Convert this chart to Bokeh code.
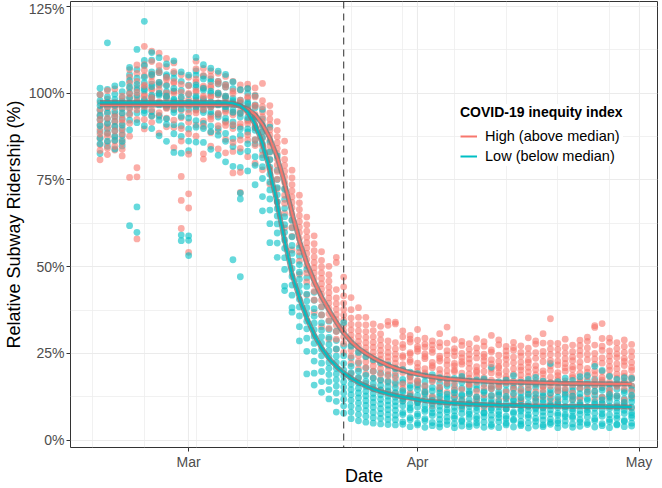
import pandas as pd
from bokeh.plotting import figure
from bokeh.models import (ColumnDataSource, Range1d, FixedTicker, Span, Legend,
                          LegendItem, PrintfTickFormatter)
from bokeh.embed import file_html
from bokeh.resources import INLINE

# ---------------- data ----------------
first_date = "2020-02-18"          # first day of observations
month_ref = "2020-03-01"           # x origin (day 0)
pause_date = "2020-03-22"          # NY PAUSE (dashed line)
month_ticks = ["2020-03-01", "2020-04-01", "2020-05-01"]
month_labels = ["Mar", "Apr", "May"]
week_minor = ["2020-02-17", "2020-02-24", "2020-03-02", "2020-03-09", "2020-03-16",
              "2020-03-23", "2020-03-30", "2020-04-06", "2020-04-13", "2020-04-20",
              "2020-04-27", "2020-05-04"]
y_ticks = [0, 25, 50, 75, 100, 125]
y_minor = [12.5, 37.5, 62.5, 87.5, 112.5]
groups = ["High (above median)", "Low (below median)"]
colors = ["#F8766D", "#00BFC4"]

# relative ridership (%) per day (one list per day, starting at first_date)
high_pts = [
    [80.8, 83.5, 85.1, 86.9, 88.2, 89.6, 90.9, 92.4, 93.7, 95.3, 97.2, 99.6],
    [82.3, 84.1, 85.8, 87.5, 88.4, 90.2, 91.1, 92.8, 94.6, 96.1, 98.3, 100.7],
    [83.6, 84.7, 86.2, 87.4, 89.1, 90.5, 91.8, 93.2, 94.1, 95.9, 97.4, 101.2],
    [81.9, 83.8, 85.6, 86.7, 88.3, 89.9, 91.4, 92.3, 93.8, 95.6, 97.7, 99.1],
    [75.7, 87.6, 91.3, 93.8, 95.4, 97.1, 98.6, 99.8, 101.3, 102.9, 104.6, 106.8],
    [58.0, 75.9, 78.5, 92.4, 95.2, 97.3, 98.8, 100.2, 101.6, 103.4, 105.7, 108.1],
    [89.7, 92.4, 95.9, 96.5, 99.1, 99.6, 101.9, 102.3, 105.0, 106.6, 108.2, 113.5],
    [91.6, 93.5, 95.2, 98.2, 98.7, 100.9, 101.3, 103.4, 104.8, 105.5, 109.1, 112.1],
    [88.5, 93.3, 94.4, 97.1, 97.5, 99.8, 101.0, 102.6, 103.1, 106.0, 107.9, 111.5],
    [90.3, 92.8, 95.6, 96.0, 98.6, 99.3, 100.1, 102.4, 103.9, 104.5, 107.6, 110.0],
    [84.3, 90.1, 92.2, 95.5, 96.2, 97.4, 99.9, 100.5, 102.9, 103.3, 106.2, 108.7],
    [61.0, 69.1, 76.0, 86.2, 89.8, 92.9, 95.1, 96.8, 98.4, 100.2, 102.5, 105.3],
    [54.1, 66.9, 71.0, 82.4, 88.3, 91.6, 94.2, 96.3, 98.1, 99.9, 102.1, 104.6],
    [87.6, 90.8, 94.3, 95.1, 97.6, 98.0, 100.3, 100.8, 103.2, 104.0, 107.0, 109.2],
    [81.0, 82.5, 90.4, 92.0, 95.3, 96.1, 98.6, 99.1, 101.5, 102.0, 105.1, 107.1],
    [84.7, 88.6, 92.5, 93.3, 95.9, 96.4, 98.9, 99.2, 101.6, 102.2, 104.9, 106.4],
    [83.9, 89.0, 90.6, 93.7, 94.2, 96.8, 97.2, 99.5, 100.1, 102.8, 103.4, 105.7],
    [82.8, 86.7, 90.7, 91.6, 94.5, 95.0, 97.3, 98.7, 99.1, 101.8, 102.4, 104.8],
    [77.0, 83.2, 85.8, 89.8, 90.9, 93.8, 94.4, 96.9, 97.3, 99.9, 100.6, 103.4],
    [71.4, 77.2, 84.1, 86.5, 90.3, 91.2, 94.1, 94.8, 97.4, 98.0, 100.9, 102.4],
    [81.7, 86.5, 88.0, 91.2, 92.0, 94.5, 95.7, 96.1, 98.5, 99.0, 101.4, 102.6],
    [79.8, 84.9, 86.6, 90.1, 90.8, 93.3, 93.9, 96.2, 96.5, 98.9, 99.4, 101.5],
    [77.9, 82.2, 84.9, 87.0, 88.8, 90.3, 91.8, 93.2, 94.6, 96.1, 97.8, 102.8],
    [73.8, 78.1, 80.9, 83.0, 84.8, 86.4, 87.9, 89.4, 90.9, 92.5, 94.3, 96.4],
    [68.7, 72.5, 75.2, 77.4, 79.3, 81.0, 82.6, 84.1, 85.7, 87.4, 89.3, 91.8],
    [61.2, 65.4, 68.3, 70.6, 72.5, 74.3, 75.9, 77.5, 79.2, 80.9, 83.1, 86.2],
    [54.8, 58.7, 61.3, 63.4, 65.2, 66.9, 68.5, 70.1, 71.8, 73.6, 75.6, 77.8],
    [47.8, 51.6, 54.2, 56.3, 58.1, 59.8, 61.4, 63.0, 64.7, 66.5, 68.4, 70.6],
    [41.9, 45.6, 48.2, 50.3, 52.1, 53.8, 55.4, 56.9, 58.5, 60.2, 62.1, 64.3],
    [36.8, 40.4, 42.9, 44.9, 46.6, 48.2, 49.7, 51.2, 52.8, 54.6, 56.6, 58.9],
    [32.7, 36.1, 38.5, 40.4, 42.1, 43.6, 45.1, 46.6, 48.2, 49.9, 51.8, 54.3],
    [29.1, 32.2, 34.5, 36.4, 38.0, 39.5, 41.0, 42.5, 44.1, 45.8, 47.7, 50.1],
    [26.2, 29.1, 31.3, 33.1, 34.7, 36.2, 37.7, 39.3, 41.0, 43.4, 51.2, 52.7],
    [25.3, 27.9, 29.8, 31.5, 33.1, 34.6, 36.1, 37.7, 39.5, 41.6, 44.2, 47.0],
    [19.2, 22.1, 24.2, 25.9, 27.4, 28.9, 30.3, 31.8, 33.4, 35.2, 37.6, 41.1],
    [17.9, 20.6, 22.6, 24.3, 25.8, 27.2, 28.5, 29.9, 31.5, 33.3, 35.4, 38.2],
    [16.4, 19.1, 21.0, 22.6, 24.0, 25.4, 26.7, 28.1, 29.6, 31.3, 33.2, 35.4],
    [15.3, 17.9, 19.8, 21.4, 22.8, 24.1, 25.4, 26.8, 28.2, 29.8, 31.6, 33.5],
    [14.6, 17.2, 19.0, 20.6, 22.0, 23.3, 24.6, 25.9, 27.3, 28.9, 30.6, 32.8],
    [14.2, 16.7, 18.5, 20.0, 21.4, 22.7, 24.0, 25.3, 26.8, 28.6, 33.1, 34.2],
    [13.6, 16.1, 17.9, 19.5, 20.9, 22.2, 23.5, 24.8, 26.3, 28.1, 33.5, 34.0],
    [11.4, 14.9, 16.2, 19.5, 20.3, 21.8, 23.9, 24.4, 26.7, 27.6, 29.8, 31.5],
    [12.7, 13.6, 17.1, 18.4, 19.0, 22.5, 23.1, 24.8, 25.2, 28.3, 29.1, 30.2],
    [10.8, 15.5, 16.6, 17.2, 19.9, 21.0, 22.2, 25.6, 26.3, 27.0, 28.8, 31.9],
    [13.1, 14.2, 15.7, 18.9, 19.4, 20.6, 23.5, 24.1, 24.9, 26.8, 29.4, 27.7],
    [9.9, 12.6, 16.9, 17.8, 18.2, 20.9, 21.5, 22.4, 25.3, 26.1, 27.4, 28.6],
    [11.9, 14.4, 15.3, 17.5, 19.2, 20.4, 22.8, 23.6, 24.2, 26.9, 28.1, 30.7],
    [10.2, 13.8, 16.4, 17.1, 18.6, 20.0, 21.7, 23.0, 24.6, 25.8, 28.0, 32.6],
    [12.3, 13.2, 15.0, 16.8, 19.7, 20.2, 21.4, 22.1, 24.3, 25.5, 26.4, 29.0],
    [9.6, 11.8, 14.6, 17.6, 18.1, 19.3, 21.9, 22.6, 23.8, 25.0, 27.3, 28.5],
    [10.7, 13.4, 15.9, 16.3, 17.9, 19.1, 20.7, 22.2, 23.4, 24.7, 26.2, 27.8],
    [11.2, 12.4, 14.1, 16.7, 18.5, 19.6, 20.1, 21.2, 23.7, 25.1, 26.6, 29.3],
    [9.3, 13.0, 15.2, 17.4, 18.0, 19.8, 21.6, 22.9, 24.0, 24.8, 27.1, 28.4],
    [10.5, 12.8, 14.8, 15.6, 17.3, 19.4, 20.5, 22.0, 23.2, 25.4, 26.0, 30.2],
    [11.6, 13.3, 15.4, 16.1, 18.7, 19.5, 20.8, 21.3, 22.7, 24.5, 27.5, 28.9],
    [9.1, 12.1, 13.9, 16.5, 17.7, 18.3, 19.9, 21.8, 23.3, 24.4, 25.7, 27.0],
    [10.4, 12.9, 14.7, 15.8, 17.0, 19.0, 20.6, 22.3, 23.9, 25.9, 26.7, 28.2],
    [11.0, 11.9, 14.3, 16.2, 17.4, 18.8, 20.2, 21.1, 22.5, 24.2, 25.3, 27.2],
    [9.8, 13.5, 15.1, 16.9, 18.4, 19.7, 21.0, 22.4, 23.1, 24.9, 26.5, 29.5],
    [10.9, 12.2, 14.0, 16.0, 17.2, 18.9, 20.3, 21.5, 23.6, 25.2, 27.7, 28.6],
    [9.4, 12.5, 14.5, 15.5, 17.8, 19.2, 20.0, 22.6, 24.3, 25.6, 28.0, 30.7],
    [11.3, 13.1, 15.6, 16.6, 18.2, 20.1, 21.4, 23.0, 24.7, 26.3, 28.0, 35.0],
    [10.1, 11.7, 14.2, 15.3, 17.5, 18.6, 19.5, 21.7, 22.8, 24.6, 26.2, 27.9],
    [9.7, 13.7, 14.9, 16.4, 17.1, 19.9, 20.9, 22.1, 23.5, 25.1, 26.8, 29.1],
    [11.5, 12.7, 13.6, 15.9, 18.0, 18.7, 20.4, 21.2, 22.9, 24.0, 25.5, 27.4],
    [10.3, 12.0, 15.0, 16.8, 17.6, 19.3, 21.1, 22.5, 24.4, 25.8, 27.3, 28.8],
    [9.5, 13.4, 14.6, 16.1, 18.3, 19.6, 20.7, 23.2, 24.8, 26.6, 28.5, 29.7],
    [11.8, 13.9, 15.7, 17.0, 18.9, 20.0, 21.9, 23.4, 25.0, 27.4, 32.5, 33.0],
    [10.6, 12.3, 15.3, 17.3, 18.1, 19.8, 22.2, 23.7, 25.9, 27.1, 29.3, 33.6],
    [12.2, 13.6, 14.4, 16.7, 18.6, 20.2, 21.3, 22.8, 24.2, 25.7, 28.2, 29.4],
    [9.9, 12.8, 15.5, 16.3, 17.9, 19.0, 20.6, 22.0, 23.8, 24.9, 26.4, 28.1],
    [10.8, 11.6, 14.8, 17.1, 18.4, 19.4, 21.5, 22.7, 23.6, 25.3, 27.0, 28.9],
    [9.2, 12.6, 14.0, 15.6, 17.6, 18.2, 20.1, 21.0, 22.4, 24.1, 25.6, 27.6],
]
low_pts = [
    [82.6, 85.4, 87.1, 88.9, 90.6, 92.3, 93.5, 95.1, 96.4, 97.8, 99.5, 101.4],
    [84.7, 86.2, 88.5, 89.7, 91.3, 92.6, 94.2, 95.8, 97.3, 98.9, 101.1, 114.5],
    [83.9, 86.4, 87.6, 89.2, 90.4, 91.9, 93.3, 94.8, 96.5, 98.2, 99.7, 102.1],
    [84.8, 86.1, 87.9, 89.4, 90.8, 92.7, 94.3, 95.6, 97.1, 98.6, 100.4, 102.6],
    [61.8, 89.4, 92.2, 94.1, 95.8, 97.2, 98.7, 100.1, 101.8, 103.6, 105.3, 107.4],
    [59.9, 67.2, 91.5, 94.3, 96.2, 97.9, 99.4, 100.9, 102.5, 104.3, 106.8, 112.6],
    [90.6, 94.3, 95.0, 97.8, 98.2, 100.7, 101.2, 103.0, 104.6, 107.9, 109.4, 120.7],
    [89.8, 93.4, 94.7, 97.5, 98.9, 99.4, 101.9, 102.6, 105.3, 106.1, 109.5, 111.7],
    [87.7, 92.2, 93.6, 96.6, 97.1, 99.4, 100.0, 102.3, 103.1, 105.9, 106.5, 110.2],
    [86.1, 91.0, 92.6, 95.8, 96.3, 98.7, 99.1, 100.4, 102.1, 104.8, 105.3, 108.4],
    [82.9, 88.3, 90.9, 94.4, 95.2, 97.9, 98.3, 100.6, 101.4, 104.3, 105.7, 109.3],
    [57.5, 59.1, 82.7, 87.5, 90.6, 93.3, 95.4, 97.2, 98.9, 100.8, 103.4, 106.1],
    [53.2, 57.6, 58.9, 83.4, 86.2, 89.7, 92.8, 95.3, 97.4, 99.6, 102.3, 105.2],
    [85.9, 90.2, 92.1, 95.3, 96.0, 98.6, 99.1, 101.7, 102.4, 105.2, 106.4, 110.3],
    [85.8, 89.8, 91.3, 94.4, 95.1, 97.7, 98.2, 100.8, 101.4, 104.1, 104.9, 108.2],
    [83.8, 88.9, 90.5, 93.9, 94.6, 96.1, 97.5, 100.0, 100.6, 103.3, 104.1, 107.2],
    [82.1, 87.9, 89.8, 93.1, 94.0, 96.6, 97.1, 99.5, 100.0, 102.6, 103.4, 106.3],
    [80.2, 86.1, 88.4, 91.9, 92.8, 95.5, 96.1, 98.6, 99.1, 101.7, 102.5, 105.4],
    [52.0, 78.9, 84.6, 86.9, 90.6, 91.7, 94.5, 95.2, 97.8, 98.5, 101.3, 103.2],
    [47.1, 69.5, 71.2, 78.6, 83.1, 87.8, 89.7, 93.1, 94.2, 97.1, 98.0, 101.0],
    [77.6, 83.3, 85.4, 88.8, 89.7, 92.4, 93.0, 95.4, 96.9, 97.4, 100.0, 101.3],
    [73.6, 79.2, 81.7, 85.4, 86.5, 89.3, 90.0, 92.6, 93.2, 95.8, 96.6, 99.2],
    [66.1, 70.2, 75.4, 78.8, 81.4, 83.5, 85.4, 87.2, 88.9, 90.7, 92.6, 95.3],
    [56.9, 62.4, 66.3, 69.5, 72.1, 74.4, 76.6, 78.7, 80.8, 83.1, 85.9, 90.2],
    [52.7, 56.8, 59.7, 62.3, 64.6, 66.7, 68.7, 70.7, 72.8, 75.1, 77.8, 81.9],
    [43.1, 44.4, 49.2, 52.6, 55.3, 57.7, 59.9, 62.1, 64.4, 66.8, 69.4, 72.3],
    [36.9, 38.2, 41.8, 44.7, 47.2, 49.5, 51.6, 53.8, 56.1, 58.6, 61.2, 63.4],
    [28.6, 32.7, 35.8, 38.4, 40.6, 42.6, 44.5, 46.4, 48.4, 50.6, 53.1, 55.4],
    [19.1, 25.6, 29.4, 32.1, 34.3, 36.3, 38.2, 40.1, 42.1, 44.3, 46.8, 49.2],
    [15.9, 19.3, 22.8, 25.6, 27.9, 29.9, 31.8, 33.7, 35.7, 37.9, 40.3, 42.6],
    [13.8, 16.9, 19.8, 22.2, 24.3, 26.2, 28.0, 29.8, 31.7, 33.8, 36.1, 38.4],
    [11.9, 14.6, 16.9, 18.9, 20.7, 22.4, 24.1, 25.8, 27.6, 29.6, 31.9, 34.3],
    [8.1, 11.2, 13.6, 15.6, 17.4, 19.1, 20.7, 22.4, 24.2, 26.3, 28.7, 31.4],
    [7.8, 9.9, 11.8, 13.6, 15.3, 16.9, 18.5, 20.2, 22.1, 24.3, 27.2, 33.9],
    [6.2, 8.1, 9.8, 11.5, 13.1, 14.6, 16.1, 17.7, 19.4, 21.3, 23.7, 27.1],
    [5.6, 7.4, 9.1, 10.7, 12.2, 13.6, 15.0, 16.5, 18.1, 19.9, 22.2, 25.3],
    [5.2, 6.9, 8.5, 10.0, 11.4, 12.8, 14.1, 15.5, 17.0, 18.7, 20.8, 24.1],
    [4.9, 6.5, 8.0, 9.5, 10.9, 12.2, 13.5, 14.8, 16.3, 17.9, 19.9, 23.2],
    [4.7, 6.3, 7.7, 9.1, 10.5, 11.8, 13.1, 14.4, 15.8, 17.4, 19.4, 22.3],
    [4.5, 6.0, 7.4, 8.8, 10.1, 11.4, 12.7, 14.0, 15.4, 17.0, 18.9, 21.7],
    [4.4, 5.9, 7.2, 8.6, 9.9, 11.1, 12.4, 13.7, 15.1, 16.7, 18.6, 20.6],
    [4.6, 5.3, 7.4, 8.0, 9.9, 11.2, 12.0, 13.8, 14.3, 16.6, 17.5, 20.3],
    [3.9, 5.9, 6.5, 8.7, 9.3, 10.4, 12.6, 13.2, 15.1, 15.8, 18.2, 19.6],
    [4.4, 4.9, 6.9, 7.6, 9.6, 10.8, 11.3, 12.9, 14.6, 16.0, 17.0, 19.2],
    [3.7, 5.6, 6.2, 8.3, 8.9, 10.1, 11.8, 13.5, 13.9, 15.5, 16.9, 18.5],
    [4.2, 5.1, 7.1, 7.9, 9.1, 10.6, 11.5, 12.3, 14.2, 15.2, 17.3, 18.9],
    [3.8, 4.7, 6.0, 7.3, 8.6, 9.8, 11.0, 12.7, 13.6, 14.9, 16.4, 18.0],
    [4.5, 5.5, 6.6, 8.1, 8.8, 10.3, 11.9, 12.4, 13.3, 15.6, 16.2, 17.6],
    [3.6, 4.8, 6.3, 7.0, 8.4, 9.5, 10.9, 12.2, 13.7, 14.4, 15.9, 17.8],
    [4.1, 5.4, 5.8, 7.7, 9.0, 10.0, 11.4, 12.8, 13.1, 15.0, 16.7, 18.4],
    [3.9, 4.6, 6.4, 7.5, 8.2, 9.7, 10.5, 11.6, 13.4, 14.1, 15.4, 17.1],
    [4.3, 5.0, 6.1, 6.8, 8.5, 9.4, 10.2, 11.9, 12.5, 14.7, 15.7, 17.4],
    [3.7, 5.2, 6.7, 7.8, 8.0, 9.9, 11.1, 12.1, 13.8, 14.2, 16.1, 17.7],
    [4.0, 4.5, 5.9, 7.2, 8.7, 9.2, 10.8, 11.7, 12.9, 14.8, 15.5, 21.0],
    [3.6, 5.3, 6.5, 7.4, 8.3, 9.6, 10.4, 11.2, 13.0, 13.9, 15.3, 16.8],
    [4.4, 4.9, 6.2, 6.9, 8.9, 9.1, 10.7, 12.0, 12.6, 14.3, 15.9, 17.3],
    [3.8, 5.7, 6.0, 7.7, 8.1, 10.1, 11.3, 11.8, 13.5, 15.0, 16.5, 18.6],
    [4.2, 4.6, 5.5, 7.1, 8.4, 8.9, 10.0, 11.5, 12.3, 13.6, 14.8, 16.7],
    [3.5, 5.0, 6.6, 7.3, 8.6, 9.8, 10.6, 12.4, 13.2, 14.5, 16.0, 17.5],
    [4.1, 5.4, 6.3, 7.9, 9.0, 9.5, 11.4, 12.2, 13.3, 15.2, 16.3, 18.1],
    [3.9, 4.4, 5.8, 7.0, 8.2, 9.3, 10.9, 11.6, 12.8, 13.7, 15.6, 17.0],
    [4.6, 5.1, 6.1, 7.6, 8.8, 9.9, 10.3, 12.1, 13.6, 14.6, 16.6, 22.1],
    [3.6, 4.9, 5.6, 7.2, 7.8, 9.4, 10.5, 11.1, 12.4, 14.0, 15.0, 16.9],
    [4.3, 5.5, 6.8, 7.4, 8.9, 9.6, 11.2, 12.5, 13.1, 14.4, 16.4, 17.9],
    [3.7, 4.7, 6.4, 6.9, 8.3, 9.0, 10.1, 11.8, 12.7, 14.2, 15.2, 17.2],
    [4.0, 5.2, 5.9, 7.5, 8.5, 10.2, 10.8, 12.3, 13.4, 14.9, 16.2, 18.3],
    [4.5, 5.0, 6.7, 8.0, 8.7, 9.7, 11.5, 12.0, 13.9, 15.3, 17.1, 18.7],
    [3.8, 5.6, 6.2, 7.8, 9.2, 10.4, 11.0, 12.9, 14.1, 15.7, 17.6, 21.3],
    [4.2, 4.8, 6.9, 7.6, 8.8, 10.6, 11.6, 12.4, 14.4, 15.1, 16.8, 20.1],
    [3.6, 5.3, 6.0, 7.3, 9.1, 9.8, 11.3, 12.6, 13.2, 15.0, 16.1, 18.4],
    [4.4, 4.6, 6.3, 7.1, 8.4, 9.3, 10.7, 12.2, 12.8, 14.7, 15.8, 17.5],
    [3.9, 5.4, 5.7, 7.7, 8.6, 10.0, 10.9, 11.9, 13.7, 14.3, 16.5, 18.0],
    [4.1, 4.9, 6.5, 7.2, 8.0, 9.5, 11.1, 12.1, 13.0, 14.6, 15.6, 17.8],
]

# fitted curves (days counted from Mar 1)
fit_days = [-12, 5, 6, 7, 8, 9, 10, 11, 12, 13, 14, 15, 16, 17, 18, 19, 20, 21, 22,
            23, 24, 25, 26, 27, 28, 30, 32, 35, 38, 42, 46, 50, 55, 60]
high_fit = [96.6, 96.6, 96.6, 96.3, 95.4, 93.8, 91.0, 87.0, 81.5, 74.0, 65.5, 57.5,
            51.0, 45.8, 41.3, 37.5, 34.0, 30.9, 28.4, 26.5, 25.0, 23.7, 22.6, 21.6,
            20.8, 19.5, 18.6, 17.7, 17.2, 16.8, 16.6, 16.4, 16.3, 16.2]
low_fit = [97.3, 97.3, 97.1, 96.4, 94.6, 91.0, 85.5, 77.8, 68.0, 57.5, 47.8, 41.0,
           35.2, 30.4, 26.6, 23.6, 21.3, 19.4, 17.9, 16.6, 15.6, 14.7, 14.0, 13.4,
           12.9, 12.1, 11.4, 10.8, 10.4, 10.1, 9.9, 9.8, 9.7, 9.6]

# ---------------- build ----------------
ref = pd.Timestamp(month_ref)


def day(s):
    return (pd.Timestamp(s) - ref).days


start = day(first_date)
xs, ys, cs = [], [], []
for k, (h, l) in enumerate(zip(high_pts, low_pts)):
    d = start + k
    n = max(len(h), len(l))
    for i in range(n):
        if i < len(h):
            xs.append(d); ys.append(h[(i * 5) % len(h)]); cs.append(colors[0])
        if i < len(l):
            xs.append(d); ys.append(l[(i * 7 + 3) % len(l)]); cs.append(colors[1])
src = ColumnDataSource(dict(x=xs, y=ys, c=cs))

FONT = "Liberation Sans"
p = figure(width=662, height=488, output_backend="svg", toolbar_location=None,
           x_range=Range1d(-16.0, 63.5), y_range=Range1d(-2.1, 126.4),
           min_border_left=0, min_border_right=5, min_border_top=1,
           min_border_bottom=0)
p.background_fill_color = "white"
p.border_fill_color = "white"
p.outline_line_color = "#333333"
p.outline_line_width = 1

p.xaxis.ticker = FixedTicker(ticks=[day(t) for t in month_ticks],
                             minor_ticks=[day(t) for t in week_minor])
p.xaxis.major_label_overrides = {day(t): lab for t, lab in zip(month_ticks, month_labels)}
p.yaxis.ticker = FixedTicker(ticks=y_ticks, minor_ticks=y_minor)
p.yaxis.formatter = PrintfTickFormatter(format="%d%%")
p.xaxis.axis_label = "Date"
p.yaxis.axis_label = "Relative Subway Ridership (%)"

for ax in (p.xaxis[0], p.yaxis[0]):
    ax.axis_line_color = None
    ax.major_tick_line_color = "#333333"
    ax.major_tick_out = 4
    ax.major_tick_in = 0
    ax.minor_tick_line_color = None
    ax.minor_tick_out = 0
    ax.minor_tick_in = 0
    ax.major_label_text_font = FONT
    ax.major_label_text_font_size = "14px"
    ax.major_label_text_color = "#4D4D4D"
    ax.major_label_standoff = 2
    ax.axis_label_text_font = FONT
    ax.axis_label_text_font_size = "18px"
    ax.axis_label_text_font_style = "normal"
    ax.axis_label_text_color = "black"
p.xaxis[0].axis_label_standoff = -7
p.yaxis[0].axis_label_standoff = 2

for g in (p.xgrid[0], p.ygrid[0]):
    g.grid_line_color = "#EBEBEB"
    g.grid_line_width = 1.1
    g.minor_grid_line_color = "#EDEDED"
    g.minor_grid_line_width = 0.8

p.scatter(x="x", y="y", source=src, size=6.8, fill_color="c", line_color=None,
          fill_alpha=0.6)

line_r = []
for fit, col in ((high_fit, colors[0]), (low_fit, colors[1])):
    p.line(fit_days, fit, line_color="#7a7a7a", line_width=5, line_alpha=0.8)
    line_r.append(p.line(fit_days, fit, line_color=col, line_width=2))

p.add_layout(Span(location=day(pause_date), dimension="height", line_color="#404040",
                  line_width=1.1, line_dash="7 5"))

items = []
for lab, col, lr in zip(groups, colors, line_r):
    dot = p.scatter([], [], size=6.8, fill_color=col, fill_alpha=0.6, line_color=None)
    items.append(LegendItem(label=lab, renderers=[lr, dot]))

legend = Legend(items=items, title="COVID-19 inequity index", location=(390, 281))
legend.title_text_font = FONT
legend.title_text_font_size = "14px"
legend.title_text_font_style = "bold"
legend.title_text_color = "black"
legend.title_standoff = 6
legend.label_text_font = FONT
legend.label_text_font_size = "14.5px"
legend.label_text_color = "black"
legend.glyph_width = 17
legend.glyph_height = 20
legend.label_height = 20
legend.label_standoff = 8
legend.spacing = 0
legend.padding = 8
legend.margin = 0
legend.border_line_color = None
legend.background_fill_color = "white"
legend.background_fill_alpha = 1
p.add_layout(legend)

open("out.html", "w").write(file_html(p, INLINE))
